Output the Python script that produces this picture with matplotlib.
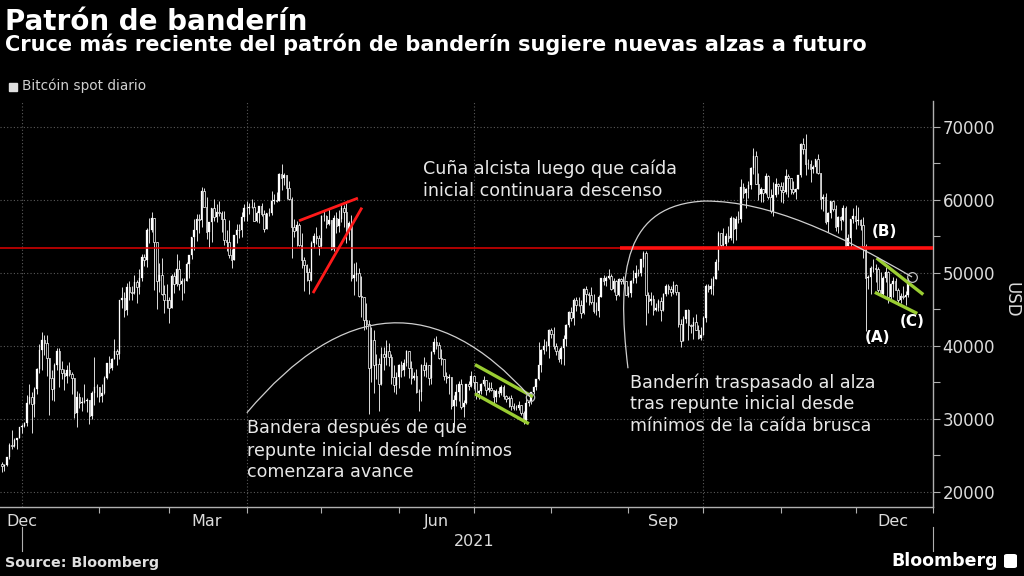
import numpy as np
import pandas as pd
import matplotlib
matplotlib.use('Agg')
import matplotlib.pyplot as plt
import matplotlib.transforms as mtransforms
from matplotlib.path import Path
from matplotlib.patches import PathPatch, Rectangle, FancyBboxPatch

# Bitcoin spot, daily candles (thousands of USD), as dated on the chart: 24 Dec 2020 .. 22 Dec 2021
first_open = 23.8
closes = [
    23.5, 23.7, 24.7, 26.4, 26.3, 27.1, 27.4, 28.9, 29.0,  # Dec
    29.4, 32.2, 33.0, 32.0, 34.0, 36.8, 39.4, 40.8, 40.3, 38.3, 35.6, 34.0, 37.4, 39.2, 36.8, 36.2, 35.8, 36.6, 36.1, 35.5,
    30.8, 33.0, 32.1, 32.3, 32.4, 32.6, 30.4, 33.5, 34.3, 34.3, 33.1,  # Jan
    33.5, 35.5, 37.6, 36.9, 38.1, 39.3, 38.9, 46.2, 46.5, 44.9, 48.0, 47.4, 47.2, 48.7, 48.0, 49.2, 52.1, 51.7, 55.9, 55.9,
    57.5, 54.2, 48.8, 49.7, 47.1, 46.3, 46.2, 45.1,  # Feb
    49.6, 48.4, 50.5, 48.4, 48.8, 48.9, 51.2, 52.4, 54.9, 55.9, 57.3, 57.2, 61.2, 59.0, 55.6, 56.9, 58.9, 57.6, 58.3, 58.1,
    57.4, 54.5, 54.2, 52.4, 51.7, 55.1, 55.9, 55.8, 57.6, 58.8, 58.9,  # Mar
    59.0, 59.0, 57.1, 58.2, 59.1, 58.0, 56.0, 58.1, 58.1, 59.8, 59.9, 59.8, 63.5, 62.9, 63.3, 61.6, 60.1, 56.2, 55.7, 56.5,
    53.8, 51.7, 51.1, 50.1, 49.0, 54.0, 55.0, 54.8, 53.6, 57.8,  # Apr
    57.8, 56.6, 57.2, 53.2, 57.5, 56.4, 57.4, 58.9, 58.3, 55.9, 56.8, 49.2, 49.7, 49.9, 46.8, 46.7, 43.5, 42.9, 37.0, 40.8,
    37.3, 37.5, 34.8, 38.8, 38.5, 39.3, 38.5, 35.7, 34.6, 35.7, 37.3,  # May
    36.7, 37.6, 39.2, 36.9, 35.5, 35.8, 33.6, 33.6, 37.3, 36.7, 37.3, 35.6, 39.1, 40.5, 40.1, 38.3, 38.1, 35.8, 35.6, 35.7,
    31.7, 32.5, 33.7, 34.7, 31.6, 32.2, 34.7, 34.5, 35.9, 35.0,  # Jun
    33.5, 33.8, 34.7, 35.3, 33.9, 34.2, 33.9, 32.9, 33.8, 33.5, 34.3, 33.1, 32.7, 32.8, 31.8, 31.4, 31.5, 31.8, 30.8, 29.8,
    32.1, 32.3, 33.6, 34.3, 35.4, 37.3, 39.4, 40.0, 40.0, 42.2, 41.6,  # Jul
    39.9, 39.2, 38.2, 39.7, 40.9, 42.8, 44.6, 43.8, 46.3, 45.6, 45.6, 44.4, 47.8, 47.1, 47.0, 46.0, 44.7, 44.8, 46.7, 49.3,
    48.9, 49.3, 49.5, 47.7, 48.9, 47.0, 49.1, 48.9, 48.8, 47.0, 47.2,  # Aug
    48.8, 49.3, 50.0, 49.9, 51.8, 52.7, 46.9, 46.1, 46.4, 44.9, 45.2, 46.1, 44.9, 47.1, 48.2, 47.8, 47.3, 48.3, 47.3, 43.0,
    40.7, 43.6, 44.9, 42.8, 42.7, 43.2, 42.2, 41.0, 41.5, 43.8,  # Sep
    48.1, 47.7, 48.2, 49.1, 51.5, 55.4, 53.8, 53.9, 55.0, 54.7, 57.5, 56.0, 57.4, 57.3, 61.7, 60.9, 61.5, 62.0, 64.3, 66.0,
    62.2, 60.7, 61.4, 60.9, 63.2, 60.3, 58.5, 60.6, 62.2, 61.9, 61.3,  # Oct
    61.0, 63.2, 62.9, 61.4, 61.0, 61.5, 63.3, 67.6, 66.9, 64.9, 64.9, 64.2, 64.4, 65.5, 63.6, 60.1, 60.4, 56.9, 58.1, 59.8,
    58.7, 56.3, 57.6, 57.2, 58.9, 53.6, 54.8, 57.3, 57.8, 57.0,  # Nov
    57.2, 56.5, 53.6, 49.2, 49.4, 50.6, 50.6, 50.5, 47.6, 47.1, 49.3, 50.1, 46.7, 48.4, 48.9, 47.6, 46.2, 46.8, 46.7, 46.9,
    49.0,  # Dec
]
highs = [
    24.1, 23.8, 24.8, 26.7, 28.4, 27.4, 27.4, 28.9, 29.3,
    29.6, 33.3, 34.8, 33.6, 34.4, 36.9, 40.2, 41.9, 41.4, 41.4, 38.3, 36.6, 37.6, 39.7, 39.7, 37.9, 36.8, 37.3, 37.8, 36.4,
    35.6, 33.8, 33.5, 32.9, 34.8, 32.8, 32.6, 33.8, 38.4, 34.8, 34.3,
    34.7, 35.9, 37.6, 38.6, 38.3, 40.9, 39.6, 46.2, 48.0, 47.3, 48.6, 48.9, 48.1, 49.7, 49.0, 50.5, 52.5, 52.5, 56.1, 57.5,
    58.3, 57.5, 54.2, 51.3, 52.0, 48.3, 48.4, 46.6,
    49.8, 50.1, 52.6, 51.7, 49.3, 49.2, 51.4, 52.4, 54.9, 57.4, 58.0, 58.0, 61.7, 61.6, 60.4, 56.9, 58.9, 60.1, 59.4, 59.8,
    58.4, 58.4, 55.8, 57.2, 53.2, 55.1, 56.6, 56.6, 58.3, 59.4, 59.8,
    59.5, 60.1, 59.6, 58.5, 59.1, 59.5, 58.6, 58.2, 58.9, 61.2, 60.7, 61.1, 63.6, 64.9, 63.6, 63.4, 62.6, 60.4, 57.4, 57.0,
    56.8, 55.4, 52.1, 51.2, 50.6, 54.3, 55.4, 56.2, 55.2, 57.9,
    58.4, 57.9, 58.9, 57.2, 57.9, 58.3, 58.6, 59.5, 59.2, 59.5, 57.0, 57.9, 51.3, 51.4, 50.6, 49.6, 46.6, 45.8, 43.5, 42.5,
    42.2, 38.8, 38.3, 39.8, 39.8, 40.8, 40.4, 38.8, 37.3, 36.4, 37.5,
    37.9, 38.2, 39.4, 39.2, 37.9, 36.4, 36.8, 34.0, 37.5, 38.4, 37.7, 37.4, 39.3, 41.0, 41.3, 40.5, 39.5, 38.2, 36.4, 36.1,
    35.7, 33.3, 34.8, 35.1, 35.4, 32.6, 34.7, 35.2, 36.5, 36.0,
    35.0, 33.9, 34.9, 35.9, 35.3, 35.0, 35.0, 33.9, 34.0, 34.3, 34.6, 34.6, 33.3, 33.1, 33.2, 32.2, 31.9, 32.4, 31.8, 31.0,
    32.8, 32.6, 33.6, 34.5, 35.4, 40.5, 39.5, 40.9, 40.6, 42.3, 42.4,
    42.6, 40.4, 39.5, 39.9, 41.4, 43.0, 44.7, 45.3, 46.5, 46.6, 46.7, 46.2, 47.9, 48.1, 47.4, 48.0, 47.1, 46.0, 47.0, 49.3,
    49.7, 49.5, 50.5, 49.8, 49.2, 49.0, 49.2, 49.3, 49.6, 48.9, 48.2,
    49.0, 50.4, 51.0, 50.5, 51.9, 52.9, 52.9, 47.4, 47.3, 47.0, 45.9, 46.4, 46.6, 47.2, 48.4, 48.5, 48.2, 48.8, 48.4, 47.3,
    43.6, 44.0, 44.9, 45.0, 42.9, 43.9, 44.3, 42.8, 42.6, 44.1,
    48.4, 48.4, 49.2, 49.5, 51.9, 55.7, 55.3, 56.1, 55.4, 56.4, 57.8, 57.6, 57.7, 58.5, 62.8, 62.3, 61.6, 62.6, 64.4, 67.0,
    66.6, 63.7, 61.7, 61.5, 63.7, 63.3, 61.4, 62.4, 62.9, 62.3, 62.4,
    62.4, 64.2, 63.5, 63.0, 62.6, 61.6, 63.3, 67.8, 68.5, 69.0, 65.6, 65.4, 64.8, 65.4, 66.3, 63.6, 60.8, 60.9, 58.3, 59.8,
    60.0, 59.3, 57.8, 57.8, 59.2, 59.1, 55.3, 57.4, 58.9, 59.2,
    59.0, 57.4, 57.6, 53.9, 49.7, 50.9, 51.9, 51.2, 50.7, 50.1, 49.5, 50.7, 50.2, 48.6, 49.4, 49.2, 47.9, 47.2, 48.2, 47.5,
    49.3,
]
lows = [
    22.7, 22.8, 23.5, 24.5, 25.9, 26.1, 25.9, 27.3, 28.0,
    28.8, 29.0, 32.0, 28.1, 30.2, 33.4, 36.3, 36.6, 38.7, 35.9, 30.5, 32.6, 32.4, 36.6, 34.4, 35.4, 33.9, 34.9, 35.9, 33.4,
    30.1, 28.9, 31.4, 31.1, 32.1, 30.9, 29.3, 30.0, 31.9, 32.9, 32.3,
    32.3, 33.4, 35.4, 36.2, 36.7, 38.1, 37.4, 38.1, 45.2, 43.9, 44.2, 46.3, 46.2, 47.1, 45.9, 47.1, 48.9, 50.9, 50.8, 54.0,
    55.5, 47.6, 45.0, 47.3, 47.0, 44.5, 45.1, 43.1,
    45.1, 47.2, 48.1, 47.6, 46.3, 47.2, 48.9, 49.3, 51.9, 53.1, 54.3, 55.4, 56.2, 59.0, 54.6, 53.4, 54.2, 57.1, 56.9, 57.8,
    55.5, 53.8, 53.0, 52.0, 50.6, 51.7, 54.0, 54.7, 54.9, 57.1, 57.0,
    58.0, 58.9, 57.0, 56.9, 56.8, 57.8, 55.5, 56.0, 57.8, 57.9, 59.4, 59.6, 59.8, 61.3, 62.0, 60.1, 59.9, 52.0, 54.9, 53.6,
    53.7, 50.6, 47.5, 48.9, 47.1, 48.9, 53.4, 53.9, 52.4, 53.4,
    57.1, 56.1, 56.5, 53.1, 52.9, 55.4, 55.6, 56.9, 56.3, 54.0, 54.5, 48.9, 46.9, 48.9, 46.7, 43.9, 42.2, 42.3, 30.7, 35.0,
    33.5, 35.4, 31.1, 34.6, 36.6, 37.3, 37.2, 34.8, 33.7, 33.4, 34.2,
    35.7, 35.9, 37.2, 35.6, 34.8, 35.3, 33.5, 31.0, 32.4, 35.8, 35.7, 34.6, 34.8, 38.8, 39.6, 38.2, 37.4, 35.3, 34.9, 33.4,
    31.3, 28.8, 31.7, 32.4, 31.3, 30.2, 32.0, 33.9, 34.3, 34.1,
    32.7, 32.7, 33.4, 34.5, 33.2, 33.6, 33.8, 32.2, 32.3, 33.0, 33.3, 32.7, 32.3, 31.6, 31.2, 31.2, 31.2, 31.2, 30.5, 29.3,
    29.5, 31.7, 32.0, 33.4, 33.9, 35.3, 36.4, 38.8, 39.3, 38.3, 41.1,
    39.5, 38.7, 37.7, 37.5, 37.4, 39.9, 42.5, 43.4, 42.8, 44.7, 45.4, 43.8, 44.3, 46.0, 45.6, 45.7, 44.4, 44.2, 43.9, 46.6,
    48.3, 48.1, 49.1, 47.6, 47.3, 46.3, 46.8, 48.4, 48.4, 46.9, 46.7,
    46.6, 48.6, 48.6, 49.5, 49.5, 50.7, 42.8, 44.5, 45.5, 44.2, 44.8, 44.8, 43.4, 44.8, 46.8, 47.1, 46.8, 47.1, 46.9, 42.6,
    39.8, 40.6, 43.1, 40.8, 41.7, 40.9, 42.1, 40.9, 40.8, 41.4,
    43.3, 47.4, 47.1, 46.9, 49.1, 50.4, 53.4, 53.7, 53.7, 54.2, 54.5, 54.0, 54.4, 56.8, 56.9, 60.2, 58.9, 60.2, 61.4, 63.5,
    62.1, 60.0, 59.7, 59.6, 60.7, 60.1, 58.1, 57.8, 60.3, 60.8, 59.7,
    59.5, 60.7, 60.4, 60.7, 60.8, 60.1, 61.4, 63.1, 66.3, 63.3, 64.2, 62.4, 63.6, 63.6, 63.5, 58.7, 58.5, 56.6, 55.6, 57.5,
    58.5, 55.7, 55.4, 55.9, 57.1, 53.3, 53.6, 53.4, 56.8, 56.0,
    56.5, 55.9, 52.0, 42.0, 47.8, 47.1, 50.1, 48.7, 47.4, 47.0, 46.8, 48.7, 45.8, 46.3, 46.6, 47.6, 45.5, 45.8, 46.4, 45.6,
    46.6,
]

# annotation geometry, (day since 1 Jan 2021, price in thousands)
breakout_level = 53.4
wedge_upper = [(111.0, 57.1), (134.6, 60.2)]
wedge_lower = [(116.6, 47.2), (136.2, 58.9)]
flag1_upper = [(181.5, 37.4), (204.7, 33.0)]
flag1_lower = [(181.5, 33.4), (203.1, 29.3)]
flag2_upper = [(342.4, 52.0), (361.1, 47.0)]
flag2_lower = [(341.7, 47.3), (358.7, 44.4)]
arc1 = [(90.1, 30.8), (148.0, 54.3), (203.5, 33.0)]
arc2 = [(242.8, 36.9), (238.0, 50.4), (241.6, 59.3), (273.6, 59.8),
        (299.7, 59.8), (327.7, 55.2), (356.6, 49.4)]

start = pd.Timestamp('2021-01-01')
dates = pd.date_range('2020-12-24', periods=len(closes), freq='D')
x = np.asarray((dates - start).days, dtype=float)
c = np.array(closes)
o = np.array([first_open] + closes[:-1])
h = np.array(highs)
l = np.array(lows)

W, H = 1024, 576
fig = plt.figure(figsize=(W / 100, H / 100), dpi=100, facecolor='black')
ax = fig.add_axes([0, 69 / H, 933 / W, 406 / H])
ax.set_facecolor('black')

# candles
ax.vlines(x, l, h, color='white', lw=0.6, zorder=3)
up = c >= o
ax.bar(x[up], (c - o)[up], bottom=o[up], width=0.62, color='white',
       edgecolor='white', lw=0.2, zorder=4)
ax.bar(x[~up], (o - c)[~up], bottom=c[~up], width=0.62, color='black',
       edgecolor='white', lw=0.5, zorder=4)

ax.set_xlim(-8.8, 365)
ax.set_ylim(17.9, 73.5)

# red breakout line, bolder over the last part
ax.axhline(breakout_level, color='#e00000', lw=1.1, zorder=5)
ax.plot([239.6, 365], [breakout_level] * 2, color='#ff1010', lw=2.6, zorder=5,
        solid_capstyle='butt')

for seg in (wedge_upper, wedge_lower):
    ax.plot(*zip(*seg), color='#ff1a1a', lw=2.0, zorder=6, solid_capstyle='butt')
for seg in (flag1_upper, flag1_lower, flag2_upper, flag2_lower):
    ax.plot(*zip(*seg), color='#9acd32', lw=2.4, zorder=6, solid_capstyle='butt')

p1 = Path(arc1, [Path.MOVETO, Path.CURVE3, Path.CURVE3])
ax.add_patch(PathPatch(p1, fc='none', ec='#cfcfcf', lw=0.9, zorder=6))
p2 = Path(arc2, [Path.MOVETO] + [Path.CURVE4] * 6)
ax.add_patch(PathPatch(p2, fc='none', ec='#cfcfcf', lw=0.9, zorder=6))
ax.plot(*arc1[-1], 'o', ms=6, mfc='none', mec='#bdbdbd', mew=0.9, zorder=7)
ax.plot(*arc2[-1], 'o', ms=7, mfc='none', mec='#bdbdbd', mew=0.9, zorder=7)

# axes styling
for s in ('top', 'left'):
    ax.spines[s].set_visible(False)
for s in ('right', 'bottom'):
    ax.spines[s].set_color('#b0b0b0')
    ax.spines[s].set_linewidth(1.0)

ax.yaxis.tick_right()
ax.set_yticks([20, 30, 40, 50, 60, 70])
ax.set_yticklabels(['20000', '30000', '40000', '50000', '60000', '70000'])
ax.set_yticks([25, 35, 45, 55, 65], minor=True)
ax.tick_params(axis='y', which='both', direction='out', length=5, width=0.8,
               color='#b0b0b0', labelcolor='#dcdcdc', labelsize=12, pad=2)
ax.yaxis.grid(True, which='major', ls=(0, (1, 2)), color='#5a5a5a', lw=0.8)

month_starts = pd.date_range('2021-01-01', '2022-01-01', freq='MS')
ms = np.asarray((month_starts - start).days, dtype=float)
ax.set_xticks(ms, minor=True)
for q in ms[[0, 3, 6, 9]]:
    ax.axvline(q, ls=(0, (1, 2)), color='#5a5a5a', lw=0.8, zorder=1)
label_months = ['Dec', 'Mar', 'Jun', 'Sep', 'Dec']
label_pos = [0, 74, 166, 257, 349]
ax.set_xticks(label_pos)
ax.set_xticklabels(label_months)
ax.tick_params(axis='x', which='major', length=0, labelcolor='#dcdcdc',
               labelsize=11.5, pad=5)
ax.tick_params(axis='x', which='minor', direction='out', length=4, width=0.8,
               color='#b0b0b0')

trans = mtransforms.blended_transform_factory(ax.transData, ax.transAxes)
for d in (0, 364.8):
    ax.plot([d, d], [-0.05, -0.108], transform=trans, color='#b0b0b0', lw=0.8,
            clip_on=False)


def fx(px):
    return px / W


def fy(py):
    return 1 - py / H


fig.text(fx(181 * 2.496 + 22), fy(542), '2021', color='#dcdcdc', fontsize=11.5,
         ha='center', va='center')
fig.text(fx(1012), fy(300), 'USD', color='#dcdcdc', fontsize=12, rotation=270,
         ha='center', va='center')

# titles
fig.text(fx(5), fy(30), 'Patrón de banderín', color='white', fontsize=20,
         fontweight='bold', va='baseline')
fig.text(fx(5), fy(51), 'Cruce más reciente del patrón de banderín sugiere nuevas alzas a futuro',
         color='white', fontsize=15, fontweight='bold', va='baseline')
fig.patches.append(Rectangle((fx(9), fy(91)), 8 / W, 8 / H, transform=fig.transFigure,
                             color='#e0e0e0'))
fig.text(fx(22), fy(86), 'Bitcóin spot diario', color='#d0d0d0', fontsize=9.8,
         va='center')

# annotations
ann = dict(color='#e8e8e8', fontsize=12.6, va='center', linespacing=1.25)
fig.text(fx(423), fy(180), 'Cuña alcista luego que caída\ninicial continuara descenso', **ann)
fig.text(fx(247), fy(450), 'Bandera después de que\nrepunte inicial desde mínimos\ncomenzara avance', **ann)
fig.text(fx(630), fy(404), 'Banderín traspasado al alza\ntras repunte inicial desde\nmínimos de la caída brusca', **ann)

lab = dict(color='white', fontsize=11, fontweight='bold', ha='center', va='center')
fig.text(fx(877), fy(338), '(A)', **lab)
fig.text(fx(884), fy(231), '(B)', **lab)
fig.text(fx(912), fy(321), '(C)', **lab)

# footer
fig.text(fx(5), fy(563), 'Source: Bloomberg', color='#e0e0e0', fontsize=10.3,
         fontweight='bold', va='center')
fig.text(fx(998), fy(561), 'Bloomberg', color='white', fontsize=12.5,
         fontweight='bold', ha='right', va='center')
fig.patches.append(FancyBboxPatch((fx(1004), fy(568)), 13 / W, 14 / H,
                                  boxstyle='round,pad=0,rounding_size=0.003',
                                  transform=fig.transFigure, fc='white', ec='none'))

fig.savefig('out.png', dpi=100, facecolor='black')
